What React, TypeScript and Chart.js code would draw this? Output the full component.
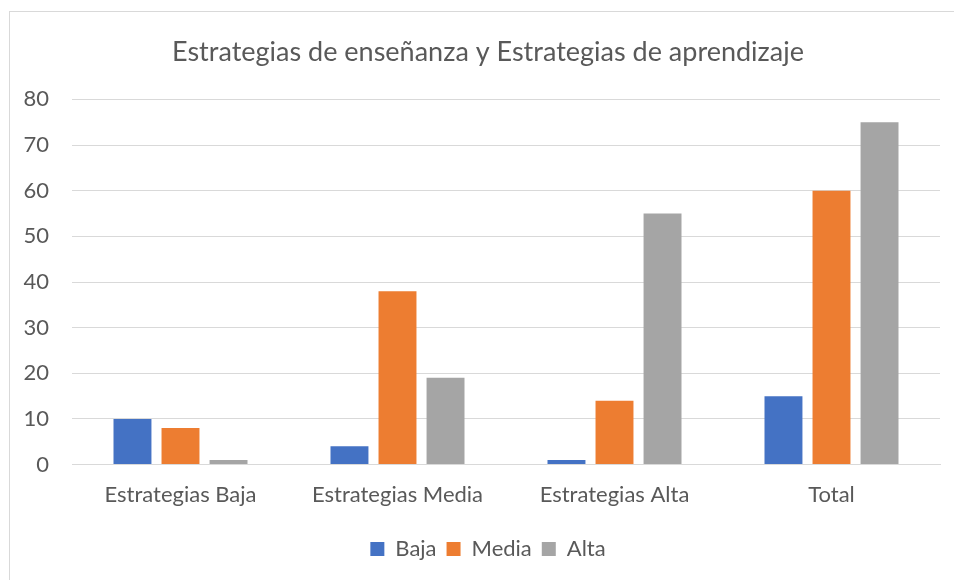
import React, { useEffect, useRef } from "react";
import { Chart, registerables } from "chart.js";

Chart.register(...registerables);

const title = "Estrategias de enseñanza y Estrategias de aprendizaje";
const categories = ["Estrategias Baja", "Estrategias Media", "Estrategias Alta", "Total"];
const seriesNames = ["Baja", "Media", "Alta"];
const bajaValues = [10, 4, 1, 15];
const mediaValues = [8, 38, 14, 60];
const altaValues = [1, 19, 55, 75];
const colors = ["#4472C4", "#ED7D31", "#A5A5A5"];
const yMin = 0;
const yMax = 80;
const yStep = 10;

const FONT = "Lato, 'Open Sans', sans-serif";
const TEXT = "#595959";

const borderPlugin = {
  id: "outerBorder",
  beforeDraw(chart: any) {
    const ctx = chart.ctx;
    ctx.save();
    ctx.fillStyle = "#ffffff";
    ctx.fillRect(0, 0, chart.width, chart.height);
    ctx.strokeStyle = "#d9d9d9";
    ctx.lineWidth = 1;
    ctx.strokeRect(9.5, 11.5, chart.width + 10, chart.height + 10);
    ctx.restore();
  },
};

export default function App() {
  const ref = useRef<HTMLCanvasElement | null>(null);
  useEffect(() => {
    if (!ref.current) return;
    const data = [bajaValues, mediaValues, altaValues];
    const chart = new Chart(ref.current, {
      type: "bar",
      data: {
        labels: categories,
        datasets: seriesNames.map((n, i) => ({
          label: n,
          data: data[i],
          backgroundColor: colors[i],
          borderWidth: 0,
          categoryPercentage: 0.664,
          barPercentage: 0.79,
        })),
      },
      options: {
        animation: false,
        responsive: false,
        maintainAspectRatio: false,
        layout: { padding: { left: 36, right: 14, top: 24, bottom: 10 } },
        plugins: {
          title: {
            display: true,
            text: title,
            color: TEXT,
            font: { family: FONT, size: 27, weight: "normal" },
            padding: { top: 12, bottom: 31 },
          },
          legend: {
            position: "bottom",
            labels: {
              color: TEXT,
              font: { family: FONT, size: 22 },
              boxWidth: 14,
              boxHeight: 14,
              padding: 10,
            },
          },
          tooltip: { enabled: false },
        },
        scales: {
          x: {
            grid: { display: false, drawTicks: false },
            border: { display: true, color: "#d9d9d9", width: 1 },
            ticks: { color: TEXT, font: { family: FONT, size: 22 }, padding: 17 },
            afterFit(scale: any) {
              scale.height += 3;
            },
          },
          y: {
            min: yMin,
            max: yMax,
            grid: { color: "#d9d9d9", drawTicks: false },
            border: { display: false },
            ticks: {
              stepSize: yStep,
              color: TEXT,
              font: { family: FONT, size: 22 },
              padding: 23,
            },
            afterFit(scale: any) {
              scale.width = 36;
              scale._computeLabelArea = () => undefined;
            },
          },
        },
      },
      plugins: [borderPlugin],
    });
    return () => chart.destroy();
  }, []);
  return (
    <div style={{ position: "absolute", left: 0, top: 0, width: 954, height: 580 }}>
      <canvas ref={ref} width={954} height={580} style={{ display: "block" }} />
    </div>
  );
}
